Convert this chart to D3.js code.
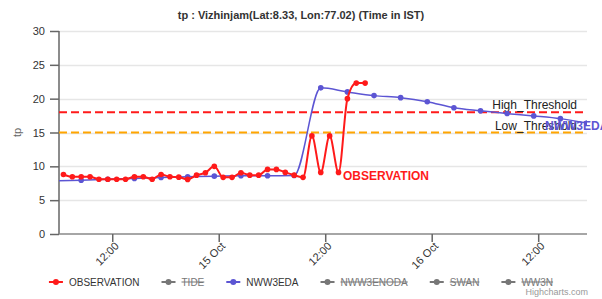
<!DOCTYPE html>
<html>
<head>
<meta charset="utf-8">
<script src="https://cdn.jsdelivr.net/npm/d3@7"></script>
<style>
  body { margin: 0; background: #fff; }
  svg { display: block; font-family: "Liberation Sans", Arial, Helvetica, sans-serif; }
</style>
</head>
<body>
<svg id="chart" width="602" height="299"></svg>
<script>
// observation, hourly (IST)
var obsTimes = [
  "2023-10-14 06:30", "2023-10-14 07:30", "2023-10-14 08:30", "2023-10-14 09:30",
  "2023-10-14 10:30", "2023-10-14 11:30", "2023-10-14 12:30", "2023-10-14 13:30",
  "2023-10-14 14:30", "2023-10-14 15:30", "2023-10-14 16:30", "2023-10-14 17:30",
  "2023-10-14 18:30", "2023-10-14 19:30", "2023-10-14 20:30", "2023-10-14 21:30",
  "2023-10-14 22:30", "2023-10-14 23:30", "2023-10-15 00:30", "2023-10-15 01:30",
  "2023-10-15 02:30", "2023-10-15 03:30", "2023-10-15 04:30", "2023-10-15 05:30",
  "2023-10-15 06:30", "2023-10-15 07:30", "2023-10-15 08:30", "2023-10-15 09:30",
  "2023-10-15 10:30", "2023-10-15 11:30", "2023-10-15 12:30", "2023-10-15 13:30",
  "2023-10-15 14:30", "2023-10-15 15:30", "2023-10-15 16:30"
];
var obsValues = [
  8.8, 8.45, 8.45, 8.45, 8.1, 8.1, 8.1, 8.1,
  8.45, 8.45, 8.1, 8.8, 8.45, 8.4, 8.07, 8.7,
  9.05, 10.0, 8.37, 8.37, 9.05, 8.7, 8.7, 9.55,
  9.55, 9.1, 8.7, 8.37, 14.5, 9.1, 14.5, 9.1,
  20.0, 22.3, 22.3
];

// NWW3EDA, 3-hourly
var edaTimes = [
  "2023-10-14 05:30", "2023-10-14 08:30", "2023-10-14 11:30", "2023-10-14 14:30",
  "2023-10-14 17:30", "2023-10-14 20:30", "2023-10-14 23:30", "2023-10-15 02:30",
  "2023-10-15 05:30", "2023-10-15 08:30", "2023-10-15 11:30", "2023-10-15 14:30",
  "2023-10-15 17:30", "2023-10-15 20:30", "2023-10-15 23:30", "2023-10-16 02:30",
  "2023-10-16 05:30", "2023-10-16 08:30", "2023-10-16 11:30", "2023-10-16 14:30",
  "2023-10-16 17:30"
];
var edaValues = [
  7.85, 7.95, 8.1, 8.2, 8.35, 8.45, 8.55, 8.6,
  8.6, 8.65, 21.6, 21.0, 20.45, 20.15, 19.55, 18.65,
  18.2, 17.8, 17.45, 17.05, 16.4
];

var xDomain = ["2023-10-14 06:00", "2023-10-16 17:30"];
var xTickTimes = ["2023-10-14 12:00", "2023-10-15 00:00", "2023-10-15 12:00", "2023-10-16 00:00", "2023-10-16 12:00"];
var xTickLabels = ["12:00", "15 Oct", "12:00", "16 Oct", "12:00"];
var yTicks = [0, 5, 10, 15, 20, 25, 30];

var thresholdNames = ["High_Threshold", "Low_Threshold"];
var thresholdValues = [18, 15];

var legendNames = ["OBSERVATION", "TIDE", "NWW3EDA", "NWW3ENODA", "SWAN", "WW3N"];
var legendVisible = [true, false, true, false, false, false];

var titleText = "tp : Vizhinjam(Lat:8.33, Lon:77.02) (Time in IST)";

var obsColor = "#ff1a1a";
var edaColor = "#5c55d3";
var hiddenColor = "#777";
var thresholdColors = ["#ff1a1a", "#ffa500"];

var parse = d3.timeParse("%Y-%m-%d %H:%M");
var svg = d3.select("#chart");

var margin = {left: 59, right: 15, top: 31, bottom: 65};
var width = 602 - margin.left - margin.right;
var height = 299 - margin.top - margin.bottom;

var x = d3.scaleTime().domain(xDomain.map(parse)).range([0, width]);
var y = d3.scaleLinear().domain([0, 30]).range([height, 0]);

svg.append("text")
  .attr("x", 301).attr("y", 19)
  .attr("text-anchor", "middle")
  .style("font-size", "11px").style("font-weight", "bold").style("fill", "#333")
  .text(titleText);

var g = svg.append("g").attr("transform", "translate(" + margin.left + "," + margin.top + ")");

svg.append("defs").append("clipPath").attr("id", "plotclip")
  .append("rect").attr("x", 0).attr("y", -5).attr("width", width).attr("height", height + 10);

// grid
g.append("g").selectAll("line").data(yTicks.filter(function (d) { return d > 0; })).enter()
  .append("line")
  .attr("x1", 0).attr("x2", width)
  .attr("y1", function (d) { return Math.round(y(d)) + 0.5; })
  .attr("y2", function (d) { return Math.round(y(d)) + 0.5; })
  .attr("stroke", "#e6e6e6").attr("stroke-width", 1.5);

// y axis
var yAxis = d3.axisLeft(y).tickValues(yTicks).tickSize(9).tickPadding(5);
var yg = g.append("g").call(yAxis);
yg.select(".domain").attr("stroke", "#666").attr("stroke-width", 1.5).attr("d", "M0," + height + "V0");
yg.selectAll(".tick line").attr("stroke", "#666").attr("stroke-width", 1.5);
yg.selectAll(".tick text").style("font-size", "11px").style("fill", "#333");

svg.append("text")
  .attr("transform", "translate(21," + (margin.top + y(15)) + ") rotate(-90)")
  .attr("text-anchor", "middle")
  .style("font-size", "11px").style("fill", "#666")
  .text("tp");

// x axis
var xAxis = d3.axisBottom(x).tickValues(xTickTimes.map(parse)).tickSize(8)
  .tickFormat(function (d, i) { return xTickLabels[i]; });
var xg = g.append("g").attr("transform", "translate(0," + height + ")").call(xAxis);
xg.select(".domain").attr("stroke", "#888").attr("stroke-width", 1.5).attr("d", "M0,0H" + width);
xg.selectAll(".tick line").attr("stroke", "#666").attr("stroke-width", 1.5);
xg.selectAll(".tick text")
  .attr("text-anchor", "end")
  .attr("transform", "translate(4,10) rotate(-45)")
  .attr("dy", "0.35em").attr("y", 0)
  .style("font-size", "11px").style("fill", "#333");

// thresholds
thresholdValues.forEach(function (v, i) {
  g.append("line")
    .attr("x1", 0).attr("x2", width)
    .attr("y1", y(v)).attr("y2", y(v))
    .attr("stroke", thresholdColors[i]).attr("stroke-width", 2)
    .attr("stroke-dasharray", "8,4");
  g.append("text")
    .attr("x", width - 10).attr("y", y(v) - 3)
    .attr("text-anchor", "end")
    .style("font-size", "12px").style("fill", "#222")
    .text(thresholdNames[i]);
});

var plot = g.append("g").attr("clip-path", "url(#plotclip)");

var line = d3.line()
  .x(function (d) { return x(d.t); })
  .y(function (d) { return y(d.v); })
  .curve(d3.curveMonotoneX);

var eda = edaTimes.map(function (t, i) { return {t: parse(t), v: edaValues[i]}; });
var obs = obsTimes.map(function (t, i) { return {t: parse(t), v: obsValues[i]}; });

plot.append("path").datum(eda)
  .attr("d", line).attr("fill", "none")
  .attr("stroke", edaColor).attr("stroke-width", 1.5);
plot.selectAll("circle.eda").data(eda).enter().append("circle")
  .attr("class", "eda")
  .attr("cx", function (d) { return x(d.t); })
  .attr("cy", function (d) { return y(d.v); })
  .attr("r", 2.8).attr("fill", edaColor);

plot.append("path").datum(obs)
  .attr("d", line).attr("fill", "none")
  .attr("stroke", obsColor).attr("stroke-width", 2);
plot.selectAll("circle.obs").data(obs).enter().append("circle")
  .attr("class", "obs")
  .attr("cx", function (d) { return x(d.t); })
  .attr("cy", function (d) { return y(d.v); })
  .attr("r", 2.8).attr("fill", obsColor);

// series labels
svg.append("text")
  .attr("x", 343).attr("y", 180)
  .style("font-size", "12px").style("font-weight", "bold").style("fill", obsColor)
  .text("OBSERVATION");
svg.append("text")
  .attr("x", 545).attr("y", 130)
  .style("font-size", "12px").style("font-weight", "bold").style("fill", edaColor)
  .text("NWW3EDA");

// legend
var legend = svg.append("g");
var lx = 0;
legendNames.forEach(function (name, i) {
  var item = legend.append("g").attr("transform", "translate(" + lx + ",0)");
  var col = i === 0 ? obsColor : (i === 2 ? edaColor : hiddenColor);
  item.append("line").attr("x1", 0).attr("x2", 14).attr("y1", 0).attr("y2", 0)
    .attr("stroke", col).attr("stroke-width", 2);
  item.append("circle").attr("cx", 7).attr("cy", 0).attr("r", 3).attr("fill", col);
  var txt = item.append("text").attr("x", 20).attr("y", 3.5)
    .style("font-size", "10px").style("fill", legendVisible[i] ? "#333" : "#777")
    .text(name);
  var w = txt.node().getComputedTextLength();
  if (!legendVisible[i]) {
    item.append("line").attr("x1", 20).attr("x2", 20 + w).attr("y1", 0).attr("y2", 0)
      .attr("stroke", "#777").attr("stroke-width", 1);
  }
  lx += 20 + w + 22;
});
var legendW = lx - 22;
legend.attr("transform", "translate(" + (301 - legendW / 2) + ",282)");

svg.append("text")
  .attr("x", 588).attr("y", 295)
  .attr("text-anchor", "end")
  .style("font-size", "9px").style("fill", "#999")
  .text("Highcharts.com");
</script>
</body>
</html>
